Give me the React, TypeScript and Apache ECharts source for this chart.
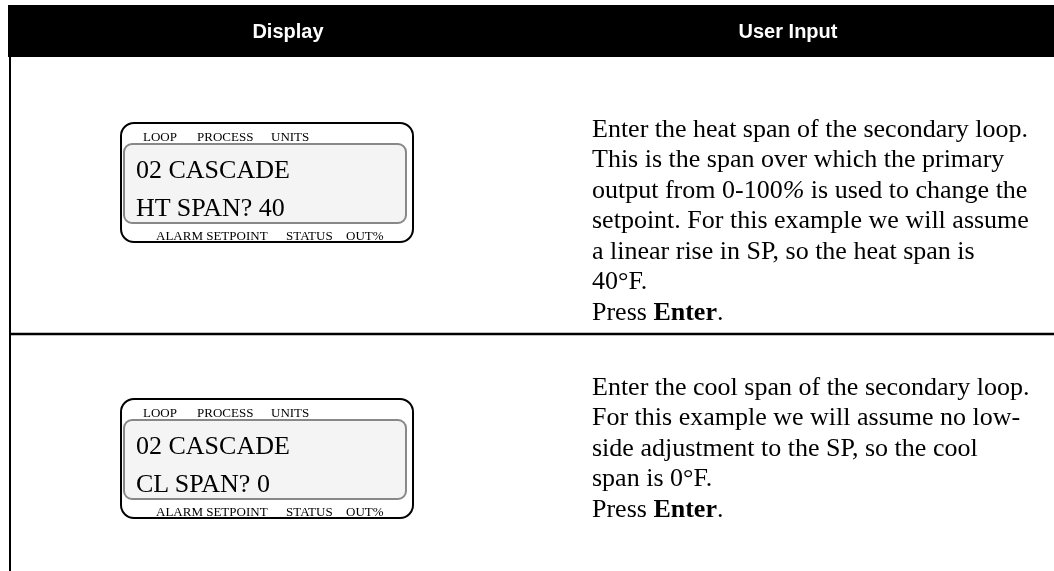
import React, { useEffect, useRef } from "react";
import * as echarts from "echarts";

const headers = ["Display", "User Input"];
const lcdTopLabels = ["LOOP", "PROCESS", "UNITS"];
const lcdBottomLabels = ["ALARM SETPOINT", "STATUS", "OUT%"];
const row1Display = ["02 CASCADE", "HT SPAN? 40"];
const row2Display = ["02 CASCADE", "CL SPAN? 0"];
const row1Text = [
  "Enter the heat span of the secondary loop.",
  "This is the span over which the primary",
  "output from 0-100{i|%} is used to change the",
  "setpoint. For this example we will assume",
  "a linear rise in SP, so the heat span is",
  "40°F.",
  "Press {b|Enter}.",
];
const row2Text = [
  "Enter the cool span of the secondary loop.",
  "For this example we will assume no low-",
  "side adjustment to the SP, so the cool",
  "span is 0°F.",
  "Press {b|Enter}.",
];

const SERIF = "'Liberation Serif', 'Times New Roman', serif";
const SANS = "'Liberation Sans', Arial, Helvetica, sans-serif";

function lcd(y0: number, lines: string[]) {
  const els: any[] = [];
  els.push({
    type: "rect",
    shape: { x: 121, y: y0, width: 292, height: 119, r: 13 },
    style: { fill: "#fff", stroke: "#000", lineWidth: 2 },
  });
  els.push({
    type: "rect",
    shape: { x: 124, y: y0 + 21, width: 282, height: 79, r: 8 },
    style: { fill: "#f4f4f4", stroke: "#888", lineWidth: 2 },
  });
  const topX = [143, 197, 271];
  lcdTopLabels.forEach((t, i) =>
    els.push({
      type: "text",
      x: topX[i],
      y: y0 + 13,
      style: { text: t, fontFamily: SERIF, fontSize: 13, fill: "#000", align: "left", verticalAlign: "middle" },
    })
  );
  lines.forEach((t, i) =>
    els.push({
      type: "text",
      x: 136,
      y: y0 + 46 + i * 38,
      style: { text: t, fontFamily: SERIF, fontSize: 26, fill: "#000", align: "left", verticalAlign: "middle" },
    })
  );
  const botX = [156, 286, 346];
  lcdBottomLabels.forEach((t, i) =>
    els.push({
      type: "text",
      x: botX[i],
      y: y0 + 112,
      style: { text: t, fontFamily: SERIF, fontSize: 13, fill: "#000", align: "left", verticalAlign: "middle" },
    })
  );
  return els;
}

function paragraph(yStart: number, lines: string[]) {
  return lines.map((t, i) => ({
    type: "text",
    x: 592,
    y: yStart + i * 30.5,
    style: {
      text: t,
      fontFamily: SERIF,
      fontSize: 26,
      fill: "#000",
      align: "left",
      verticalAlign: "middle",
      rich: {
        b: { fontFamily: SERIF, fontSize: 26, fontWeight: "bold", fill: "#000" },
        i: { fontFamily: SERIF, fontSize: 26, fontStyle: "italic", fill: "#000" },
      },
    },
  }));
}

export default function App() {
  const ref = useRef<HTMLDivElement>(null);
  useEffect(() => {
    if (!ref.current) return;
    const chart = echarts.init(ref.current, undefined, { renderer: "svg" });
    const graphic: any[] = [
      { type: "rect", shape: { x: 0, y: 0, width: 1054, height: 571 }, style: { fill: "#fff" } },
      { type: "rect", shape: { x: 8, y: 5, width: 1046, height: 52 }, style: { fill: "#000" } },
      {
        type: "text",
        x: 288,
        y: 31,
        style: { text: headers[0], fontFamily: SANS, fontSize: 20, fontWeight: "bold", fill: "#fff", align: "center", verticalAlign: "middle" },
      },
      {
        type: "text",
        x: 788,
        y: 31,
        style: { text: headers[1], fontFamily: SANS, fontSize: 20, fontWeight: "bold", fill: "#fff", align: "center", verticalAlign: "middle" },
      },
      { type: "line", shape: { x1: 10, y1: 57, x2: 10, y2: 571 }, style: { stroke: "#000", lineWidth: 2 } },
      { type: "line", shape: { x1: 10, y1: 334, x2: 1054, y2: 334 }, style: { stroke: "#000", lineWidth: 2.5 } },
      ...lcd(123, row1Display),
      ...lcd(399, row2Display),
      ...paragraph(128, row1Text),
      ...paragraph(386, row2Text),
    ];
    chart.setOption({ animation: false, graphic });
    return () => chart.dispose();
  }, []);
  return <div ref={ref} style={{ position: "fixed", left: 0, top: 0, width: 1054, height: 571 }} />;
}
